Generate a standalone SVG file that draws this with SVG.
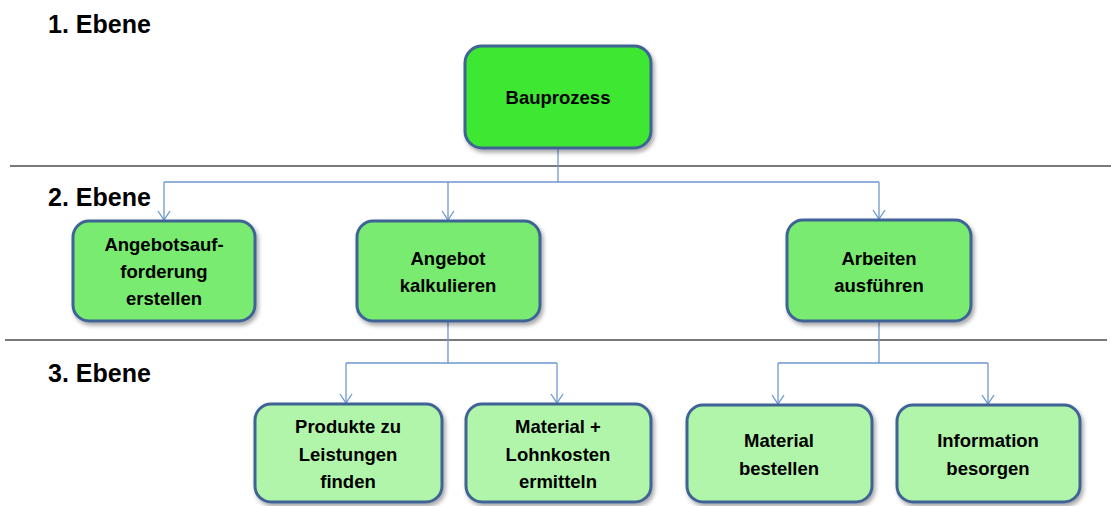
<svg xmlns="http://www.w3.org/2000/svg" width="1111" height="506" viewBox="0 0 1111 506">
  <style>
    .lvl { font-family: "Liberation Sans", Arial, sans-serif; font-weight: bold; font-size: 25px; fill: #000; }
    .sep { stroke: #7a7a7a; stroke-width: 2; fill: none; }
    .box { stroke: #3f6395; stroke-width: 3; filter: url(#shadow); }
    .l1 { fill: #3de733; }
    .l2 { fill: #78eb6f; }
    .l3 { fill: #b1f5aa; }
    .lbl { font-family: "Liberation Sans", Arial, sans-serif; font-weight: bold; font-size: 18.5px; fill: #000; text-anchor: middle; }
    .conn { stroke: #6d98cf; stroke-width: 1.3; fill: none; }
    .arr { stroke: #6d98cf; stroke-width: 1.3; fill: none; marker-end: url(#vhead); }
  </style>
  <defs>
    <filter id="shadow" x="-10%" y="-10%" width="125%" height="130%">
      <feDropShadow dx="2" dy="3" stdDeviation="2" flood-color="#000" flood-opacity="0.35"/>
    </filter>
    <!-- open V arrowhead, drawn along +x so orient="auto" points it down the line -->
    <marker id="vhead" markerWidth="12" markerHeight="14" refX="10" refY="7" orient="auto" markerUnits="userSpaceOnUse" viewBox="0 0 12 14">
      <path d="M1,1 L10,7 L1,13" fill="none" stroke="#6d98cf" stroke-width="1.3"/>
    </marker>
  </defs>

  <!-- level headings and separators -->
  <g id="levels">
    <text class="lvl" x="48" y="33">1. Ebene</text>
    <text class="lvl" x="48" y="206">2. Ebene</text>
    <text class="lvl" x="48" y="382">3. Ebene</text>
    <line class="sep" x1="10" y1="166" x2="1111" y2="166"/>
    <line class="sep" x1="5" y1="340" x2="1107" y2="340"/>
  </g>

  <!-- connectors -->
  <g id="connectors">
    <path class="conn" d="M558,148 V182 M164,182 H879"/>
    <path class="arr" d="M164,182 V220"/>
    <path class="arr" d="M448,182 V220"/>
    <path class="arr" d="M879,182 V219"/>
    <path class="conn" d="M448,321 V363 M346,363 H557"/>
    <path class="arr" d="M346,363 V403"/>
    <path class="arr" d="M557,363 V403"/>
    <path class="conn" d="M879,321 V363 M778,363 H988"/>
    <path class="arr" d="M778,363 V404"/>
    <path class="arr" d="M988,363 V404"/>
  </g>

  <g id="bauprozess">
    <rect class="box l1" x="465" y="46" width="186" height="102" rx="17"/>
    <text class="lbl" x="558" y="104">Bauprozess</text>
  </g>

  <g id="angebotsaufforderung">
    <rect class="box l2" x="73" y="221" width="182" height="100" rx="16"/>
    <text class="lbl" x="164" y="251">Angebotsauf-</text>
    <text class="lbl" x="164" y="278">forderung</text>
    <text class="lbl" x="164" y="305">erstellen</text>
  </g>

  <g id="angebot-kalkulieren">
    <rect class="box l2" x="357" y="221" width="183" height="100" rx="16"/>
    <text class="lbl" x="448" y="265">Angebot</text>
    <text class="lbl" x="448" y="292">kalkulieren</text>
  </g>

  <g id="arbeiten-ausfuehren">
    <rect class="box l2" x="787" y="220" width="184" height="101" rx="16"/>
    <text class="lbl" x="879" y="265">Arbeiten</text>
    <text class="lbl" x="879" y="292">ausführen</text>
  </g>

  <g id="produkte">
    <rect class="box l3" x="255" y="404" width="187" height="98" rx="16"/>
    <text class="lbl" x="348" y="433">Produkte zu</text>
    <text class="lbl" x="348" y="461">Leistungen</text>
    <text class="lbl" x="348" y="488">finden</text>
  </g>

  <g id="material-lohnkosten">
    <rect class="box l3" x="466" y="404" width="185" height="98" rx="16"/>
    <text class="lbl" x="558" y="433">Material +</text>
    <text class="lbl" x="558" y="461">Lohnkosten</text>
    <text class="lbl" x="558" y="488">ermitteln</text>
  </g>

  <g id="material-bestellen">
    <rect class="box l3" x="687" y="405" width="185" height="97" rx="16"/>
    <text class="lbl" x="779" y="447">Material</text>
    <text class="lbl" x="779" y="475">bestellen</text>
  </g>

  <g id="information-besorgen">
    <rect class="box l3" x="897" y="405" width="183" height="97" rx="16"/>
    <text class="lbl" x="988" y="447">Information</text>
    <text class="lbl" x="988" y="475">besorgen</text>
  </g>
</svg>
